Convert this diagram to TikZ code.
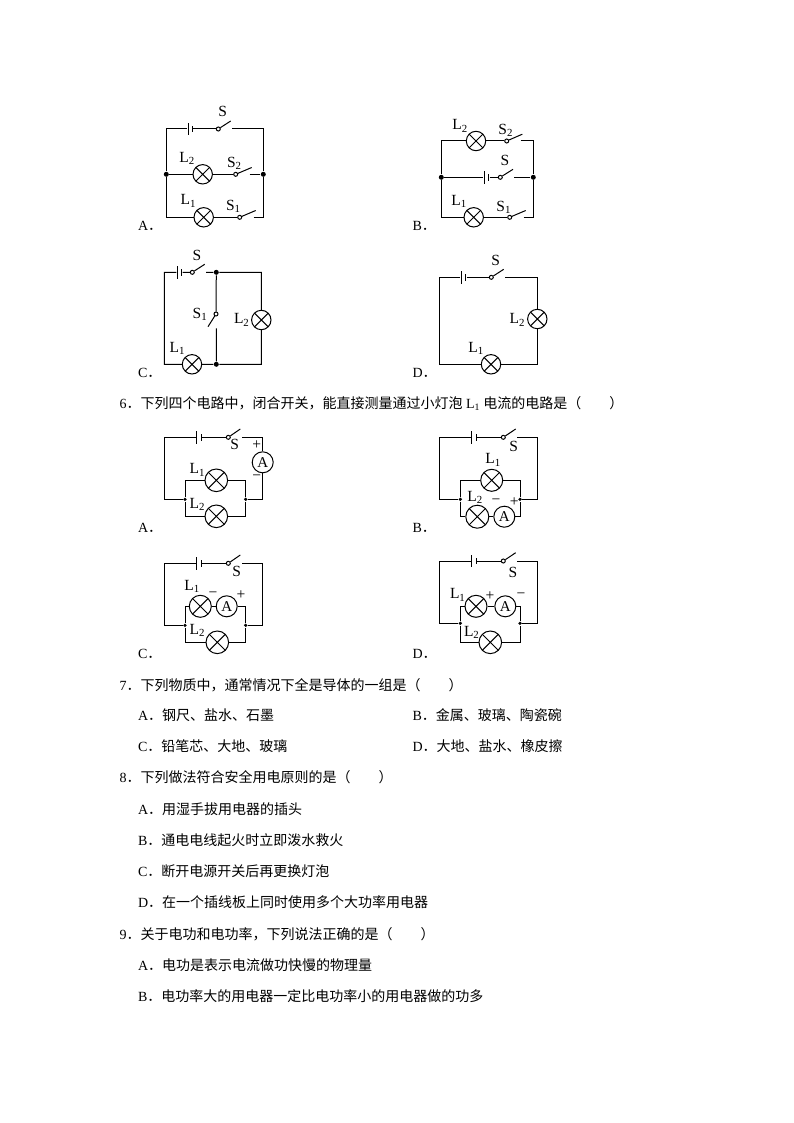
\documentclass[tikz,border=0pt]{standalone}
\usepackage{fontspec}
\setmainfont{Liberation Serif}
\newfontfamily\cjk{Noto Sans CJK SC}
\usetikzlibrary{calc,positioning}
\newcommand{\cn}[1]{{\cjk #1}}
\newcommand{\cellpair}[2]{%
  \node[longplate] (#1a) at (#2) {};
  \node[shortplate] (#1b) at ($(#1a)+(4.3,0)$) {};}
\newcommand{\hswitch}[3]{%
  \node[pivot] (#1) at (#2) {};
  \coordinate (#1tip) at ($(#1)+(#3)$);
  \coordinate (#1end) at ($(#1)+(13.8,0)$);
  \draw (#1) -- (#1tip);}
\tikzset{
  lamp/.style={circle, draw, inner sep=0, minimum size=#1,
    path picture={\draw (path picture bounding box.north west) -- (path picture bounding box.south east)
      (path picture bounding box.north east) -- (path picture bounding box.south west);}},
  lamp/.default=19.4,
  meter/.style={circle, draw, inner sep=0, minimum size=21, font=\fontsize{15}{17}\selectfont},
  pivot/.style={circle, draw, inner sep=0, minimum size=4},
  bigdot/.style={circle, fill, inner sep=0, minimum size=5},
  tinydot/.style={circle, fill, inner sep=0, minimum size=3.6},
  longplate/.style={fill, inner sep=0, minimum width=1, minimum height=12.5},
  shortplate/.style={fill, inner sep=0, minimum width=1, minimum height=6.5},
  lbl/.style={inner sep=0, font=\fontsize{15.5}{17}\selectfont},
  qtext/.style={inner sep=0, anchor=west, font=\fontsize{14}{16}\selectfont},
}
\begin{document}
\begin{tikzpicture}[x=1pt, y=-1pt, line width=1pt]
  \useasboundingbox (0,0) rectangle (794,1123);
  % question 5, A
  \cellpair{aB}{188,129}
  \hswitch{aS}{218.3,129}{12.4,-8}
  \node[bigdot] (aDl) at (166.3,174.3) {};
  \node[bigdot] (aDr) at (263.3,174.3) {};
  \node[lamp] (aL2) at (202.7,174.3) {};
  \hswitch{aS2}{235.7,174.3}{16,-6.8}
  \node[lamp] (aL1) at (203.7,217.3) {};
  \hswitch{aS1}{239.7,217.3}{16,-6.8}
  \draw (aBa) -| (aDl) (aBb) -- (aS) (aSend) -| (aDr)
    (aDl) -- (aL2) -- (aS2) (aS2end) -- (aDr)
    (aDl) |- (aL1) -- (aS1) (aS1end) -| (aDr);
  \node[lbl] (aSlab) at (222.7,111) {S};
  \node[lbl] (aL2lab) at (187,158.3) {L\textsubscript{2}};
  \node[lbl] (aS2lab) at (234.3,163.7) {S\textsubscript{2}};
  \node[lbl] (aL1lab) at (188.3,201) {L\textsubscript{1}};
  \node[lbl] (aS1lab) at (233.3,206.7) {S\textsubscript{1}};
  \node[qtext] (aopt) at (137.5,225.7) {A\cn{．}};
  % question 5, B
  \node[lamp] (bL2) at (476,141) {};
  \hswitch{bS2}{506.7,141}{15.6,-6.8}
  \node[bigdot] (bDl) at (441.3,177.3) {};
  \node[bigdot] (bDr) at (533.3,177.3) {};
  \cellpair{bB}{484.3,177.3}
  \hswitch{bS}{500.3,177.3}{12.7,-8}
  \node[lamp] (bL1) at (473.7,217.3) {};
  \hswitch{bS1}{509.7,217.3}{16,-6.8}
  \draw (bDl) |- (bL2) -- (bS2) (bS2end) -| (bDr)
    (bDl) -- (bBa) (bBb) -- (bS) (bSend) -- (bDr)
    (bDl) |- (bL1) -- (bS1) (bS1end) -| (bDr);
  \node[lbl] (bL2lab) at (460,126) {L\textsubscript{2}};
  \node[lbl] (bS2lab) at (505.7,130.7) {S\textsubscript{2}};
  \node[lbl] (bSlab) at (505,160.7) {S};
  \node[lbl] (bL1lab) at (459,201.7) {L\textsubscript{1}};
  \node[lbl] (bS1lab) at (503.7,207.3) {S\textsubscript{1}};
  \node[qtext] (bopt) at (412,225.7) {B\cn{．}};
  % question 5, C
  \cellpair{cB}{177.3,272.3}
  \hswitch{cS}{192.3,272.3}{12.4,-8}
  \node[bigdot] (cDt) at (216.3,272.3) {};
  \node[bigdot] (cDb) at (216.3,364.3) {};
  \coordinate (cTL) at (164.3,272.3);
  \coordinate (cTR) at (261.3,272.3);
  \node[lamp] (cL2) at (261.3,320) {};
  \node[lamp] (cL1) at (192,364.3) {};
  \node[pivot] (cS1) at (216,314) {};
  \coordinate (cS1tip) at (208,326.7);
  \coordinate (cS1end) at (216.3,328.3);
  \draw (cBa) -- (cTL) |- (cL1) -- (cDb) (cBb) -- (cS) (cSend) -- (cDt)
    (cDt) -- (cTR) -- (cL2) |- (cDb)
    (cDt) -- (cS1) -- (cS1tip) (cS1end) -- (cDb);
  \node[lbl] (cSlab) at (197,255) {S};
  \node[lbl] (cS1lab) at (200,314) {S\textsubscript{1}};
  \node[lbl] (cL2lab) at (241.7,320) {L\textsubscript{2}};
  \node[lbl] (cL1lab) at (177.3,348.3) {L\textsubscript{1}};
  \node[qtext] (copt) at (137.5,372.8) {C\cn{．}};
  % question 5, D
  \cellpair{dB}{461.3,277.3}
  \hswitch{dS}{491.3,277.3}{12.4,-8}
  \coordinate (dTL) at (439.3,277.3);
  \coordinate (dTR) at (537.3,277.3);
  \node[lamp] (dL2) at (537.3,319) {};
  \node[lamp] (dL1) at (491,364.3) {};
  \draw (dBa) -- (dTL) |- (dL1) -| (dL2) -- (dTR) -- (dSend) (dBb) -- (dS);
  \node[lbl] (dSlab) at (495.7,260) {S};
  \node[lbl] (dL2lab) at (517.3,320) {L\textsubscript{2}};
  \node[lbl] (dL1lab) at (476,348.3) {L\textsubscript{1}};
  \node[qtext] (dopt) at (412,372.8) {D\cn{．}};
  \node[qtext] (q6) at (119,403.5) {6\cn{．下列四个电路中，闭合开关，能直接测量通过小灯泡} L\textsubscript{1} \cn{电流的电路是（　　）}};
  % question 6, A
  \cellpair{faB}{196.7,437.3}
  \hswitch{faS}{228.3,437.3}{12,-8.3}
  \coordinate (faTL) at (164.3,437.3);
  \node[meter] (faA) at (262.7,462.3) {A};
  \node[tinydot] (faDl) at (185,499.3) {};
  \node[tinydot] (faDr) at (245.7,499.3) {};
  \node[lamp=22.6] (faL1) at (216.3,480.3) {};
  \node[lamp=22.6] (faL2) at (216.3,516.3) {};
  \draw (faBa) -- (faTL) |- (faDl) (faBb) -- (faS) (faSend) -| (faA) |- (faDr)
    (faDl) |- (faL1) -| (faDr) (faDl) |- (faL2) -| (faDr);
  \node[lbl] (faSlab) at (234.7,444.3) {S};
  \node[lbl] (faplus) at (256.7,445.3) {+};
  \node[lbl] (faminus) at (256.7,477.3) {−};
  \node[lbl] (faL1lab) at (197.3,470) {L\textsubscript{1}};
  \node[lbl] (faL2lab) at (197.3,504.3) {L\textsubscript{2}};
  \node[qtext] (faopt) at (137.5,527.8) {A\cn{．}};
  % question 6, B
  \cellpair{fbB}{471.7,437.3}
  \hswitch{fbS}{503.3,437.3}{12.4,-8.3}
  \coordinate (fbTL) at (439.3,437.3);
  \coordinate (fbTR) at (537.3,437.3);
  \node[tinydot] (fbDl) at (460.3,499.3) {};
  \node[tinydot] (fbDr) at (520,499.3) {};
  \node[lamp=22] (fbL1) at (491.7,480.3) {};
  \node[lamp=23] (fbL2) at (477.3,516.7) {};
  \node[meter] (fbA) at (504.3,516.7) {A};
  \draw (fbBa) -- (fbTL) |- (fbDl) (fbBb) -- (fbS) (fbSend) -- (fbTR) |- (fbDr)
    (fbDl) |- (fbL1) -| (fbDr) (fbDl) |- (fbL2) -- (fbA) -| (fbDr);
  \node[lbl] (fbSlab) at (513.7,446) {S};
  \node[lbl] (fbL1lab) at (493,460) {L\textsubscript{1}};
  \node[lbl] (fbL2lab) at (475,497.3) {L\textsubscript{2}};
  \node[lbl] (fbminus) at (496,502) {−};
  \node[lbl] (fbplus) at (514.3,501.7) {+};
  \node[qtext] (fbopt) at (412,527.8) {B\cn{．}};
  % question 6, C
  \cellpair{fcB}{196.7,563.3}
  \hswitch{fcS}{228.3,563.3}{12,-8.3}
  \coordinate (fcTL) at (164.3,563.3);
  \coordinate (fcTR) at (262.7,563.3);
  \node[tinydot] (fcDl) at (185,625.3) {};
  \node[tinydot] (fcDr) at (245.7,625.3) {};
  \node[lamp=22] (fcL1) at (200.3,606.3) {};
  \node[meter] (fcA) at (226.7,606.3) {A};
  \node[lamp=22.6] (fcL2) at (217.3,642.3) {};
  \draw (fcBa) -- (fcTL) |- (fcDl) (fcBb) -- (fcS) (fcSend) -- (fcTR) |- (fcDr)
    (fcDl) |- (fcL1) -- (fcA) -| (fcDr) (fcDl) |- (fcL2) -| (fcDr);
  \node[lbl] (fcSlab) at (236.7,571.7) {S};
  \node[lbl] (fcL1lab) at (192,586.7) {L\textsubscript{1}};
  \node[lbl] (fcminus) at (213,595) {−};
  \node[lbl] (fcplus) at (241,595) {+};
  \node[lbl] (fcL2lab) at (197.3,630.7) {L\textsubscript{2}};
  \node[qtext] (fcopt) at (137.5,653.8) {C\cn{．}};
  % question 6, D
  \cellpair{fdB}{471.7,561}
  \hswitch{fdS}{503.3,561}{12.4,-8.3}
  \coordinate (fdTL) at (439.3,561);
  \coordinate (fdTR) at (537.3,561);
  \node[tinydot] (fdDl) at (460.3,623.3) {};
  \node[tinydot] (fdDr) at (520,623.3) {};
  \node[lamp=22] (fdL1) at (476,606.3) {};
  \node[meter] (fdA) at (505.3,606.3) {A};
  \node[lamp=22.6] (fdL2) at (490.3,642.3) {};
  \draw (fdBa) -- (fdTL) |- (fdDl) (fdBb) -- (fdS) (fdSend) -- (fdTR) |- (fdDr)
    (fdDl) |- (fdL1) -- (fdA) -| (fdDr) (fdDl) |- (fdL2) -| (fdDr);
  \node[lbl] (fdSlab) at (513,572.7) {S};
  \node[lbl] (fdL1lab) at (457.7,595) {L\textsubscript{1}};
  \node[lbl] (fdplus) at (490,596) {+};
  \node[lbl] (fdminus) at (521,596) {−};
  \node[lbl] (fdL2lab) at (471.7,632.3) {L\textsubscript{2}};
  \node[qtext] (fdopt) at (412,653.8) {D\cn{．}};
  % the text questions
  \node[qtext] (q7) at (119,685) {7\cn{．下列物质中，通常情况下全是导体的一组是（　　）}};
  \node[qtext] (q7a) at (137.5,715.5) {A\cn{．钢尺、盐水、石墨}};
  \node[qtext] (q7b) at (412,715.5) {B\cn{．金属、玻璃、陶瓷碗}};
  \node[qtext] (q7c) at (137.5,746.5) {C\cn{．铅笔芯、大地、玻璃}};
  \node[qtext] (q7d) at (412,746.5) {D\cn{．大地、盐水、橡皮擦}};
  \node[qtext] (q8) at (119,777.5) {8\cn{．下列做法符合安全用电原则的是（　　）}};
  \node[qtext] (q8a) at (137.5,809.5) {A\cn{．用湿手拔用电器的插头}};
  \node[qtext] (q8b) at (137.5,840.5) {B\cn{．通电电线起火时立即泼水救火}};
  \node[qtext] (q8c) at (137.5,871.5) {C\cn{．断开电源开关后再更换灯泡}};
  \node[qtext] (q8d) at (137.5,902.5) {D\cn{．在一个插线板上同时使用多个大功率用电器}};
  \node[qtext] (q9) at (119,934) {9\cn{．关于电功和电功率，下列说法正确的是（　　）}};
  \node[qtext] (q9a) at (137.5,965.5) {A\cn{．电功是表示电流做功快慢的物理量}};
  \node[qtext] (q9b) at (137.5,996.5) {B\cn{．电功率大的用电器一定比电功率小的用电器做的功多}};
\end{tikzpicture}
\end{document}
